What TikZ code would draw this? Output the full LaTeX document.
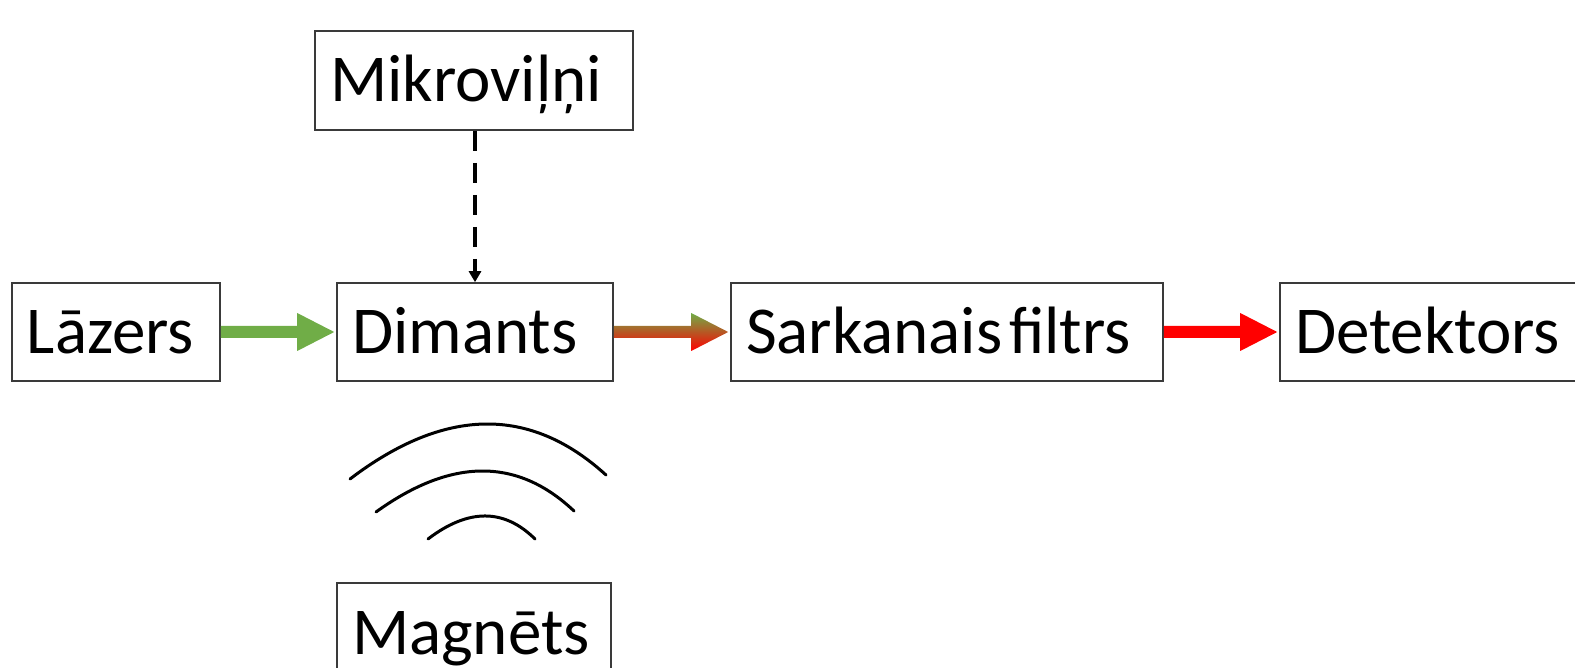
\documentclass[tikz,border=0pt]{standalone}
\usepackage{fontspec}
\setmainfont{Carlito}
\usetikzlibrary{calc,arrows.meta}

\definecolor{beamgreen}{HTML}{70AD47}
\definecolor{beamred}{HTML}{FF0000}
\definecolor{boxline}{HTML}{3A3A3A}

% block arrow from the east side of #2 to the west side of #3, painted with #1
\newcommand\fatarrow[3]{%
  \path[#1] ($(#2.east)+(0,-6)$) -- ($(#3.west)+(-39,-6)$)
    -- ($(#3.west)+(-39,-19)$) -- ($(#3.west)+(-2,0)$)
    -- ($(#3.west)+(-39,19)$) -- ($(#3.west)+(-39,6)$)
    -- ($(#2.east)+(0,6)$) -- cycle;}

\begin{document}
\begin{tikzpicture}[x=1pt,y=-1pt,
  box/.style={draw=boxline, line width=1.6pt, fill=white,
    minimum height=98pt, inner xsep=15pt, inner ysep=0pt,
    text height=43pt, text depth=0pt, align=left,
    font=\fontsize{67}{72}\selectfont},
  wave/.style={line width=3pt, line cap=round}]

\useasboundingbox (0,0) rectangle (1575,668);

% main beam path
\node[box, text width=178pt] (laser)  at (116,332)  {Lāzers};
\node[box, text width=246pt] (diamond) at (475,332) {Dimants};
\node[box, text width=402pt] (filter) at (947,332)  {Sarkanais\hspace{0.1em}filtrs};
\node[box, text width=290pt] (detector) at (1440,332) {Detektors};

% microwave source above, magnet below
\node[box, text width=288pt, minimum height=99pt] (mw)  at (474,80.5)  {Mikroviļņi};
\node[box, text width=244pt, minimum height=99pt] (mag) at (474,632.5) {Magnēts};

% beams
\fatarrow{fill=beamgreen}{laser}{diamond}
\fatarrow{top color=beamgreen, bottom color=beamred}{diamond}{filter}
\fatarrow{fill=beamred}{filter}{detector}

% microwave drive
\draw[line width=3.8pt, dash pattern=on 20pt off 12pt,
      -{Triangle[length=11pt,width=12pt]}]
  (mw.south -| 475,0) -- (diamond.north -| 475,0);

% magnetic field lines
\draw[wave] (350,479) .. controls (444.7,407) and (530,405.7) .. (606,475);
\draw[wave] (376,512) .. controls (451.3,457.7) and (517.3,457.3) .. (574,511);
\draw[wave] (428,539) .. controls (468.3,508.3) and (504,508.3) .. (535,539);
\end{tikzpicture}
\end{document}
